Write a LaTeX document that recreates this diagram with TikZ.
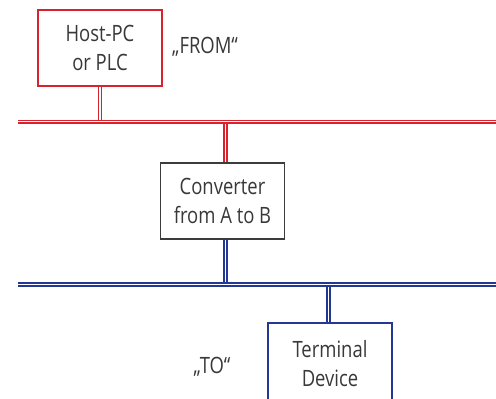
\documentclass[tikz,border=0pt]{standalone}
\usepackage{fontspec}
\setmainfont{Open Sans}[FakeStretch=0.82]
\begin{document}
\begin{tikzpicture}[x=1pt,y=-1pt,
  box/.style={draw=#1, line width=1.4pt, minimum width=124pt, minimum height=76pt, align=center, inner sep=0pt, text=black!78, font=\fontsize{22.5}{29}\selectfont},
  bus/.style={draw=#1, line width=1.3pt, double=white, double distance=1.5pt},
  lbl/.style={text=black!78, font=\fontsize{22.5}{26}\selectfont}]
\useasboundingbox (0,0) rectangle (496,399);
\definecolor{myred}{RGB}{215,35,45}
\definecolor{myblue}{RGB}{35,55,150}
\definecolor{mygray}{RGB}{60,60,60}
\node[box=myred] (host) at (100,48) {Host-PC\\or PLC};
\node[lbl] (from) at (205,47) {„FROM“};
\coordinate (rl) at (18,121.7);
\coordinate (rr) at (497,121.7);
\node[box=mygray] (conv) at (222.5,201) {Converter\\from A to B};
\coordinate (bl) at (18,284.5);
\coordinate (br) at (497,284.5);
\node[box=myblue, minimum height=82pt] (term) at (330,364) {Terminal\\Device};
\node[lbl] (to) at (212,367) {„TO“};
\coordinate (rv) at (225.5,121.7);
\coordinate (bv1) at (225.5,284.5);
\coordinate (bv2) at (328.5,284.5);
\draw[bus=myred] (host.south) -- (host.south |- rl);
\draw[bus=myred] (rv) -- (rv |- conv.north);
\draw[bus=myblue] (bv1 |- conv.south) -- (bv1);
\draw[bus=myblue] (bv2) -- (bv2 |- term.north);
\draw[bus=myred] (rl) -- (rr);
\draw[bus=myblue] (bl) -- (br);
\end{tikzpicture}
\end{document}
